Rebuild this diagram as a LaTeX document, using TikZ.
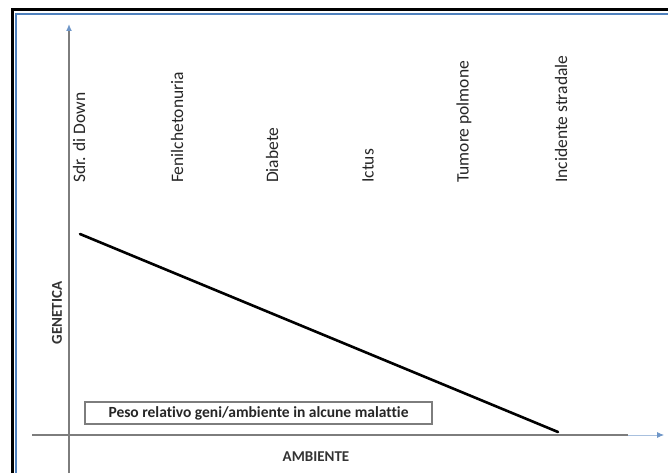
\documentclass[tikz,border=0pt]{standalone}
\usepackage{fontspec}
\setmainfont[Ligatures=CommonOff]{Carlito}
\usetikzlibrary{arrows.meta}
\definecolor{frameblue}{RGB}{79,129,189}
\definecolor{axisgray}{RGB}{125,125,125}
\definecolor{tipblue}{RGB}{110,150,200}
\begin{document}
\begin{tikzpicture}[x=1pt,y=-1pt,
  disease/.style={rotate=90, anchor=west, inner sep=0pt, font=\fontsize{17.5}{20}\selectfont, text=black!85},
  axislabel/.style={inner sep=0pt, font=\bfseries\fontsize{15}{17}\selectfont, text=black!80},
  axis/.style={draw=axisgray, line width=1.4pt},
  mainline/.style={draw=black, line width=2.6pt, line cap=round},
  titlebox/.style={draw=axisgray, line width=1.2pt, minimum width=347pt, minimum height=22pt, inner sep=0pt, font=\bfseries\fontsize{15.5}{17}\selectfont, text=black!85}]
\useasboundingbox (0,0) rectangle (668,473);
\fill[white] (0,0) rectangle (668,473);
% frame
\draw[black, line width=3pt] (12.5,473) -- (12.5,10) -- (668,10);
\draw[frameblue, line width=1.5pt] (16,473) -- (16,14) -- (668,14);
% axes
\coordinate (yb) at (69,473);
\coordinate (yt) at (69,24);
\coordinate (xl) at (32,435);
\coordinate (xm) at (628,435);
\coordinate (xr) at (664,435);
\draw[axis, -{Latex[length=7pt,width=6pt,color=tipblue]}] (yb) -- (yt);
\draw[draw=tipblue!60, line width=0.8pt, -{Latex[length=7pt,width=6pt,color=tipblue]}] (xm) -- (xr);
\draw[axis] (xl) -- (xm);
% main line
\coordinate (ls) at (80,234);
\coordinate (le) at (558,432);
\draw[mainline] (ls) -- (le);
% diseases
\node[disease] (d1) at (79,183) {Sdr. di Down};
\node[disease] (d2) at (177,183) {Fenilchetonuria};
\node[disease] (d3) at (272,183) {Diabete};
\node[disease] (d4) at (368,183) {Ictus};
\node[disease] (d5) at (464,183) {Tumore polmone};
\node[disease] (d6) at (561,183) {Incidente stradale};
% labels
\node[axislabel, rotate=90] (gen) at (57,313) {GENETICA};
\node[axislabel] (amb) at (316,457) {AMBIENTE};
\node[titlebox] (box) at (258.5,413) {Peso relativo geni/ambiente in alcune malattie};
\end{tikzpicture}
\end{document}
